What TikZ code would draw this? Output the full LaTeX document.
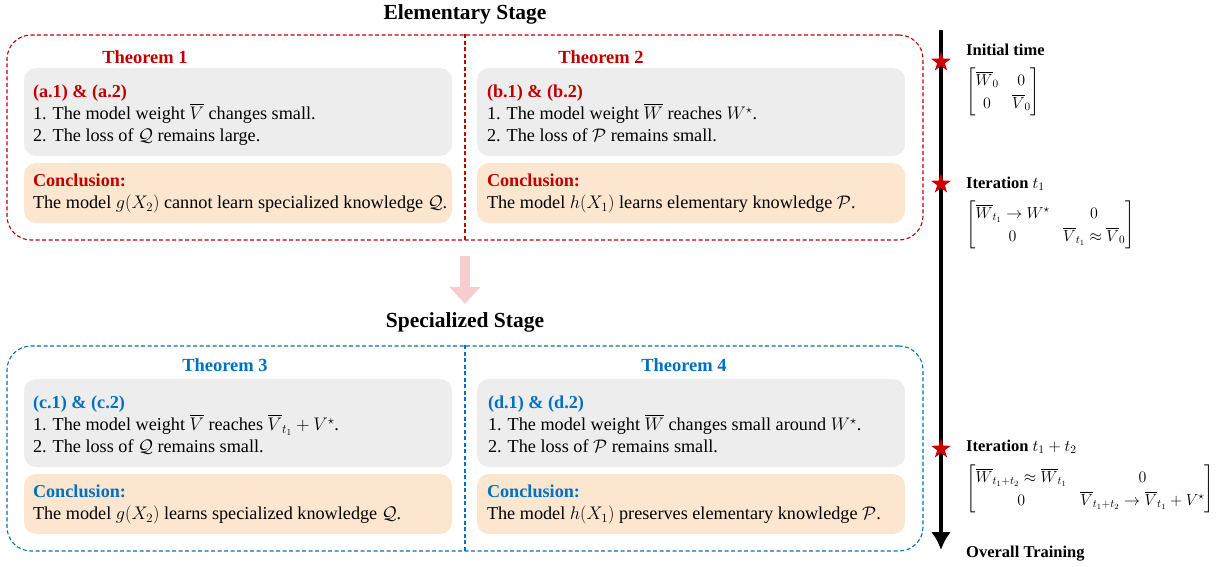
\RequirePackage{fix-cm}
\documentclass[tikz,border=0pt]{standalone}
\usepackage{amsmath}
\usepackage{amssymb}
\usepackage{fontspec}
\setmainfont{Liberation Serif}
\usetikzlibrary{calc}
\usetikzlibrary{shapes.geometric}
\usetikzlibrary{arrows.meta}

\definecolor{thred}{RGB}{192,0,0}
\definecolor{thblue}{RGB}{0,112,192}
\definecolor{boxgray}{RGB}{237,237,237}
\definecolor{boxorange}{RGB}{253,230,207}
\definecolor{arrowpink}{RGB}{246,206,206}
\definecolor{starred}{RGB}{204,0,0}

\newcommand{\matfont}{\fontsize{16}{19}\selectfont\setlength{\arraycolsep}{6.7pt}\def\arraystretch{1.2}}

\tikzset{
  stagebox/.style={dash pattern=on 4pt off 2.5pt, line width=1.1pt, rounded corners=24pt,
    minimum width=916pt, minimum height=205pt},
  divline/.style={dash pattern=on 4pt off 2.5pt, line width=1.1pt},
  graybox/.style={fill=boxgray, rounded corners=12pt, minimum width=428pt, minimum height=88pt},
  orangebox/.style={fill=boxorange, rounded corners=12pt, minimum width=428pt, minimum height=60pt},
  body/.style={font=\fontsize{18.2}{22}\selectfont, anchor=base west},
  head/.style={font=\fontsize{18.2}{22}\selectfont\bfseries, anchor=base west},
  thm/.style={font=\fontsize{18.5}{22}\selectfont\bfseries},
  stage/.style={font=\fontsize{21.5}{24}\selectfont\bfseries},
  timelabel/.style={font=\fontsize{16.5}{20}\selectfont\bfseries, anchor=base west},
  matbox/.style={font=\matfont, anchor=north west},
  timestar/.style={star, star points=5, star point ratio=2.6, fill=starred, minimum size=21pt},
  pinkarrow/.style={arrowpink, line width=10pt, -{Triangle[width=30pt,length=17pt]}},
  timeline/.style={line width=4pt, -{Latex[width=20pt,length=18pt]}},
}

\begin{document}
\begin{tikzpicture}[x=1pt,y=-1pt,inner sep=0pt]
\useasboundingbox (0,0) rectangle (1226,567);

% elementary stage
\node[stage] (es) at (465,14) {Elementary Stage};
\node[stagebox, draw=thred] (elem) at (465,137.5) {};
\draw[divline, thred] (elem.north) -- (elem.south);

\node[thm, text=thred] (th1) at (145,57) {Theorem 1};
\node[graybox] (g1) at (238,112) {};
\node[orangebox] (o1) at (238,193) {};
\node[head, text=thred] (h1) at ($(g1.north west)+(9,30)$) {(a.1) \& (a.2)};
\node[body] (l11) at ($(h1.base west)+(0,22)$) {1. The model weight $\overline{V}$ changes small.};
\node[body] (l12) at ($(l11.base west)+(0,22)$) {2. The loss of $\mathcal{Q}$ remains large.};
\node[head, text=thred] (ch1) at ($(o1.north west)+(9,24)$) {Conclusion:};
\node[body] (c1) at ($(ch1.base west)+(0,22)$) {The model $g(X_2)$ cannot learn specialized knowledge $\mathcal{Q}$.};

\node[thm, text=thred] (th2) at (601,57) {Theorem 2};
\node[graybox] (g2) at (691,112) {};
\node[orangebox] (o2) at (691,193) {};
\node[head, text=thred] (h2) at ($(g2.north west)+(10,30)$) {(b.1) \& (b.2)};
\node[body] (l21) at ($(h2.base west)+(0,22)$) {1. The model weight $\overline{W}$ reaches $W^\star$.};
\node[body] (l22) at ($(l21.base west)+(0,22)$) {2. The loss of $\mathcal{P}$ remains small.};
\node[head, text=thred] (ch2) at ($(o2.north west)+(10,24)$) {Conclusion:};
\node[body] (c2) at ($(ch2.base west)+(0,22)$) {The model $h(X_1)$ learns elementary knowledge $\mathcal{P}$.};

% specialized stage
\node[stage] (ss) at (465,322) {Specialized Stage};
\draw[pinkarrow] ([yshift=-15pt]elem.south) -- ([yshift=8pt]ss.north);
\node[stagebox, draw=thblue] (spec) at (465,448.5) {};
\draw[divline, thblue] (spec.north) -- (spec.south);

\node[thm, text=thblue] (th3) at (225,365) {Theorem 3};
\node[graybox] (g3) at (238,423) {};
\node[orangebox] (o3) at (238,504) {};
\node[head, text=thblue] (h3) at ($(g3.north west)+(9,30)$) {(c.1) \& (c.2)};
\node[body] (l31) at ($(h3.base west)+(0,22)$) {1. The model weight $\overline{V}$ reaches $\overline{V}_{t_1}+V^\star$.};
\node[body] (l32) at ($(l31.base west)+(0,22)$) {2. The loss of $\mathcal{Q}$ remains small.};
\node[head, text=thblue] (ch3) at ($(o3.north west)+(9,24)$) {Conclusion:};
\node[body] (c3) at ($(ch3.base west)+(0,22)$) {The model $g(X_2)$ learns specialized knowledge $\mathcal{Q}$.};

\node[thm, text=thblue] (th4) at (684,365) {Theorem 4};
\node[graybox] (g4) at (691,423) {};
\node[orangebox] (o4) at (691,504) {};
\node[head, text=thblue] (h4) at ($(g4.north west)+(11,30)$) {(d.1) \& (d.2)};
\node[body] (l41) at ($(h4.base west)+(0,22)$) {1. The model weight $\overline{W}$ changes small around $W^\star$.};
\node[body] (l42) at ($(l41.base west)+(0,22)$) {2. The loss of $\mathcal{P}$ remains small.};
\node[head, text=thblue] (ch4) at ($(o4.north west)+(10,24)$) {Conclusion:};
\node[body] (c4) at ($(ch4.base west)+(0,22)$) {The model $h(X_1)$ preserves elementary knowledge $\mathcal{P}$.};

% training timeline
\coordinate (tltop) at (941,30);
\coordinate (tlend) at (941,550);
\draw[timeline] (tltop) -- (tlend);
\node[timestar] (s0) at (941,62) {};
\node[timestar] (s1) at (941,184) {};
\node[timestar] (s2) at (941,449) {};

\node[timelabel] (i0) at (966,56) {Initial time};
\node[matbox] (m0) at (966,68) {$\begin{bmatrix} \overline{W}_0 & 0\\ 0 & \overline{V}_0 \end{bmatrix}$};
\node[timelabel] (i1) at (966,188) {Iteration $t_1$};
\node[matbox] (m1) at (966,201) {$\begin{bmatrix} \overline{W}_{t_1}\to W^\star & 0\\ 0 & \overline{V}_{t_1}\approx\overline{V}_0 \end{bmatrix}$};
\node[timelabel] (i2) at (966,451) {Iteration $t_1+t_2$};
\node[matbox] (m2) at (966,465) {$\begin{bmatrix} \overline{W}_{t_1+t_2}\approx\overline{W}_{t_1} & 0\\ 0 & \overline{V}_{t_1+t_2}\to\overline{V}_{t_1}+V^\star \end{bmatrix}$};
\node[timelabel] (ot) at (966,557) {Overall Training};
\end{tikzpicture}
\end{document}
